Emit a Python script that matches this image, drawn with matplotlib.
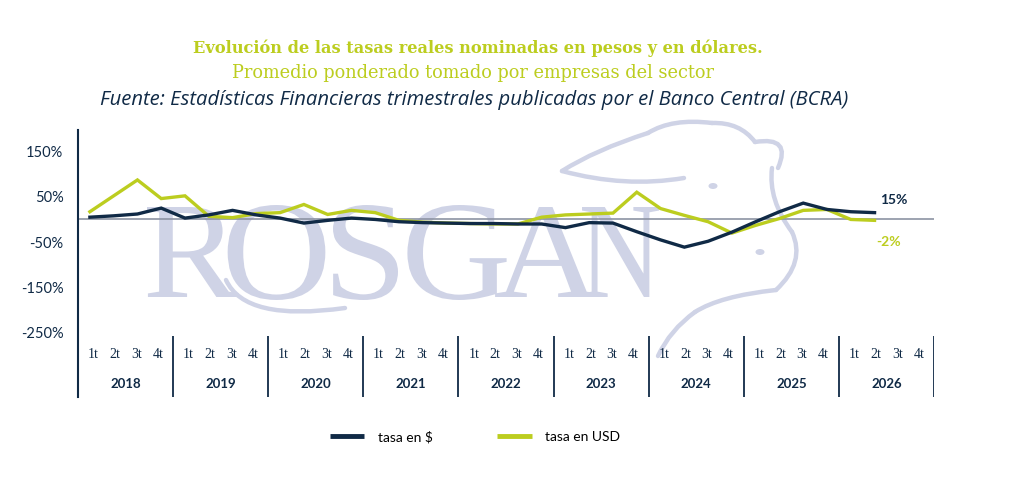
#!/usr/bin/env python3
"""Tasas reales en pesos y en dolares - recreacion del grafico trimestral."""

import matplotlib
matplotlib.use('Agg')
import matplotlib.pyplot as plt
from matplotlib.path import Path
from matplotlib.patches import PathPatch, Ellipse
from matplotlib.textpath import TextPath
from matplotlib.font_manager import FontProperties
from matplotlib.lines import Line2D
from matplotlib.transforms import Affine2D

# ---- data (percent, quarterly 2018 1t .. 2026 2t) ----
years = ['2018', '2019', '2020', '2021', '2022', '2023', '2024', '2025', '2026']
quarters = ['1t', '2t', '3t', '4t']
tasa_pesos = [5, 8, 12, 25, 3, 10, 20, 10, 3, -8, -2, 3,
              0, -5, -7, -8, -9, -9, -10, -10, -18, -7, -8, -27,
              -45, -61, -48, -28, -5, 17, 36, 22, 17, 15]
tasa_usd = [17, 52, 87, 46, 52, 7, 4, 13, 15, 33, 11, 20,
            15, -2, -6, -8, -9, -10, -10, 5, 10, 12, 14, 60,
            24, 9, -5, -30, -13, 2, 20, 22, 0, -2]
yticks = [150, 50, -50, -150, -250]

NAVY = '#102a46'
GREEN = '#bccd1f'
GRAY = '#8c93a3'
WATER = '#cfd3e6'

W, H = 1024, 483


def fig_xy(x, y):
    """image pixel (top-left origin) -> figure fraction"""
    return x / W, 1 - y / H


fig = plt.figure(figsize=(W / 100, H / 100), dpi=100)
fig.patch.set_facecolor('white')

x0, x1 = fig_xy(78, 397)
x2, x3 = fig_xy(934, 130)
ax = fig.add_axes([x0, x1, x2 - x0, x3 - x1])
ax.set_facecolor('none')

n_cat = len(years) * 4
ax.set_xlim(-0.5, n_cat - 0.5)
ax.set_ylim(-391, 197)

# watermark "ROSGAN", one letter at a time (letters overlap in the logo)
serif = FontProperties(family='Liberation Serif')
letter_boxes = [('R', 147, 239), ('O', 222, 331), ('S', 333, 398),
                ('G', 406, 508), ('A', 490, 604), ('N', 582, 659)]
for ch, lx0, lx1 in letter_boxes:
    tp = TextPath((0, 0), ch, size=100, prop=serif)
    ext = tp.get_extents()
    top, bot = (205, 300) if ch in 'OSG' else (207, 297)
    # scale on height, widen a little, centre in the letter's box
    sy = (bot - top) / ext.height
    sx = min(sy * 1.08, (lx1 - lx0) / ext.width)
    cx = (lx0 + lx1) / 2
    tr = (Affine2D().translate(-ext.x0 - ext.width / 2, -ext.y0)
          .scale(sx / W, sy / H)
          .translate(cx / W, 1 - bot / H))
    ax.add_patch(PathPatch(tr.transform_path(tp), facecolor=WATER, edgecolor='none',
                           transform=fig.transFigure, zorder=0, clip_on=False))

# rough cow head outline + swoosh under the O
cow_strokes = [
    [(562, 171), (595, 150), (648, 133)],
    [(562, 171), (625, 188), (684, 178)],
    [(648, 133), (672, 118), (712, 123)],
    [(712, 123), (740, 122), (755, 142)],
    [(755, 142), (792, 136), (778, 168)],
    [(772, 168), (768, 200), (792, 232)],
    [(792, 232), (806, 262), (776, 290)],
    [(776, 290), (720, 296), (695, 312)],
    [(695, 312), (670, 330), (658, 356)],
    [(226, 280), (245, 322), (345, 308)],
]
for pts in cow_strokes:
    verts = [fig_xy(*p) for p in pts]
    path = Path(verts, [Path.MOVETO, Path.CURVE3, Path.CURVE3])
    ax.add_patch(PathPatch(path, facecolor='none', edgecolor=WATER, lw=3.2,
                           capstyle='round', transform=fig.transFigure,
                           zorder=0, clip_on=False))
for cx, cy in [(713, 186), (760, 252)]:
    ex, ey = fig_xy(cx, cy)
    ax.add_patch(Ellipse((ex, ey), 9 / W, 6 / H, facecolor=WATER, edgecolor='none',
                         transform=fig.transFigure, zorder=0, clip_on=False))

# zero line and series
ax.axhline(0, color=GRAY, lw=1.2, zorder=1)
xs = list(range(len(tasa_pesos)))
ax.plot(xs, tasa_usd, color=GREEN, lw=2.4, solid_joinstyle='miter', zorder=3)
ax.plot(xs, tasa_pesos, color=NAVY, lw=2.4, solid_joinstyle='miter', zorder=4)

ax.annotate(f'{tasa_pesos[-1]}%', (xs[-1], tasa_pesos[-1]), xytext=(6, 13),
            textcoords='offset pixels', ha='left', va='center', color=NAVY,
            fontsize=10, fontweight='bold', family='Lato')
ax.annotate(f'{tasa_usd[-1]}%', (xs[-1], tasa_usd[-1]), xytext=(2, -22),
            textcoords='offset pixels', ha='left', va='center', color=GREEN,
            fontsize=10, fontweight='bold', family='Lato')

# axes styling
for s in ['top', 'right', 'bottom']:
    ax.spines[s].set_visible(False)
ax.spines['left'].set_color(NAVY)
ax.spines['left'].set_linewidth(1.5)
ax.set_xticks([])
ax.set_yticks(yticks)
ax.set_yticklabels([f'{v}%' for v in yticks], color=NAVY, fontsize=10.5, family='Lato')
ax.tick_params(axis='y', length=0, pad=10.5)

# category band: quarter / year labels and separators
ax.vlines([-0.5 + 4 * k for k in range(len(years) + 1)], -391, -256,
          color=NAVY, lw=1.3, zorder=2)
for k, yr in enumerate(years):
    center = 4 * k + 1.5
    for q, lab in enumerate(quarters):
        ax.text(center + (q - 1.5) * 0.905, -297, lab, ha='center', va='center',
                color=NAVY, fontsize=10, family='Liberation Serif')
    ax.text(center, -362, yr, ha='center', va='center', color=NAVY,
            fontsize=9.5, fontweight='bold', family='Lato')

# titles
tx, ty = fig_xy(478, 48)
fig.text(tx, ty, 'Evolución de las tasas reales nominadas en pesos y en dólares.',
         ha='center', va='center', color=GREEN, fontsize=11.7, fontweight='bold',
         family='DejaVu Serif')
tx, ty = fig_xy(473, 73)
fig.text(tx, ty, 'Promedio ponderado tomado por empresas del sector',
         ha='center', va='center', color=GREEN, fontsize=12.8, family='DejaVu Serif')
tx, ty = fig_xy(474, 100)
fig.text(tx, ty, 'Fuente: Estadísticas Financieras trimestrales publicadas por el Banco Central (BCRA)',
         ha='center', va='center', color=NAVY, fontsize=14.6, style='italic', family='Open Sans')

# legend
handles = [Line2D([], [], color=NAVY, lw=3.5, solid_capstyle='butt'),
           Line2D([], [], color=GREEN, lw=3.5, solid_capstyle='butt')]
lx, ly = fig_xy(475, 437)
fig.legend(handles, ['tasa en $', 'tasa en USD'], loc='center', bbox_to_anchor=(lx, ly),
           ncol=2, frameon=False, handlelength=2.5, handletextpad=1.0, columnspacing=4.6,
           prop=FontProperties(family='Lato', size=10))

fig.savefig('out.png', dpi=100)
